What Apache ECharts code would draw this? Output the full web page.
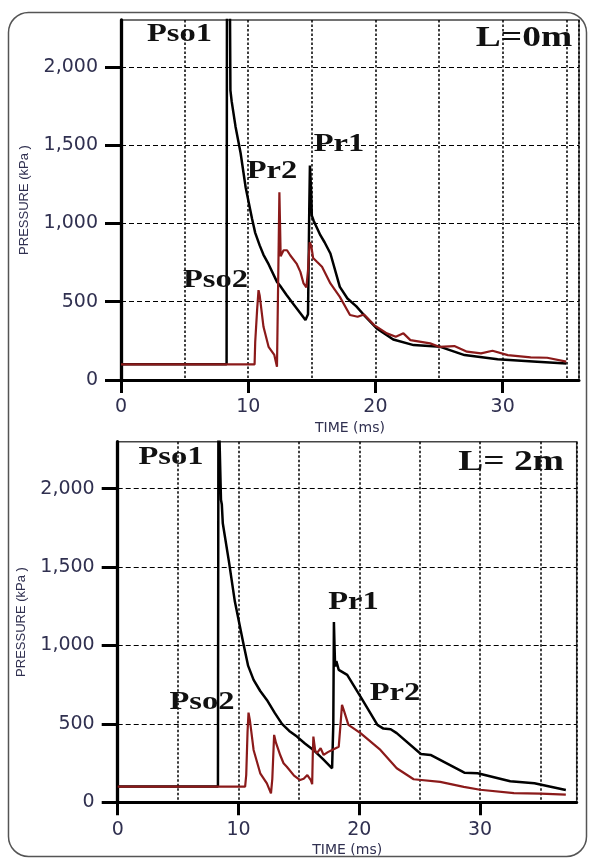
<!DOCTYPE html>
<html>
<head>
<meta charset="utf-8">
<script src="https://cdn.jsdelivr.net/npm/echarts@6/dist/echarts.min.js"></script>
<style>
html,body{margin:0;padding:0;background:#fff;}
#chart{width:589px;height:859px;}
</style>
</head>
<body>
<div id="chart"></div>
<script>
// ---- Data (time in ms, pressure in kPa) ----
// L = 0 m, black trace (Pso1 / Pr1)
const t0Black = [0, 8.3, 8.33, 8.55, 8.6, 8.7, 9.0, 9.4, 9.8, 10.3, 10.55, 10.9, 11.2, 11.6, 12.26, 12.52, 13.0, 13.5, 14.1, 14.5, 14.7, 14.8, 14.85, 14.95, 15.0, 15.15, 15.67, 16.0, 16.46, 17.2, 17.8, 18.5, 19.1, 20.1, 21.4, 23.0, 25.1, 27.0, 29.6, 32.7, 35.0];
const p0Black = [100, 100, 2600, 2600, 1850, 1780, 1620, 1450, 1230, 1030, 940, 860, 800, 740, 627, 600, 545, 490, 427, 383, 420, 1100, 1370, 1200, 1050, 1016, 925, 880, 808, 595, 521, 470, 415, 330, 259, 223, 212, 159, 132, 117, 106];
// L = 0 m, red trace (Pso2 / Pr2)
const t0Red = [0, 10.5, 10.55, 10.7, 10.81, 10.9, 11.2, 11.6, 12.05, 12.26, 12.35, 12.4, 12.45, 12.5, 12.55, 12.78, 13.05, 13.3, 13.8, 14.1, 14.35, 14.57, 14.7, 14.83, 14.95, 15.1, 15.4, 15.8, 16.46, 17.2, 18.0, 18.6, 19.1, 19.9, 20.9, 21.6, 22.2, 22.75, 24.3, 25.0, 26.2, 27.2, 28.3, 29.2, 30.4, 32.2, 33.5, 35.0];
const p0Red = [100, 100, 244, 450, 574, 540, 340, 212, 160, 85, 90, 900, 1200, 1000, 790, 829, 829, 797, 744, 691, 617, 591, 700, 880, 860, 780, 755, 723, 617, 531, 415, 404, 419, 351, 298, 276, 298, 255, 234, 212, 217, 181, 170, 187, 159, 145, 142, 117];
// L = 2 m, black trace
const t2Black = [0, 8.3, 8.34, 8.5, 8.55, 8.62, 8.7, 9.2, 9.7, 10.4, 10.8, 11.25, 11.8, 12.35, 13.0, 13.6, 14.2, 14.84, 15.5, 16.2, 17.0, 17.75, 17.85, 17.9, 17.95, 18.0, 18.1, 18.3, 19.0, 20.1, 21.5, 22.0, 22.6, 23.1, 25.1, 25.9, 28.7, 29.8, 32.5, 34.5, 37.1];
const p2Black = [100, 100, 2600, 2600, 1930, 1900, 1780, 1540, 1280, 1015, 870, 781, 710, 653, 570, 500, 455, 419, 375, 334, 275, 217, 500, 1150, 1000, 866, 900, 845, 813, 674, 494, 470, 466, 441, 308, 302, 189, 185, 134, 121, 79];
// L = 2 m, red trace
const t2Red = [0, 10.55, 10.64, 10.75, 10.83, 10.95, 11.25, 11.8, 12.35, 12.69, 12.8, 12.95, 13.1, 13.46, 13.73, 14.0, 14.6, 15.1, 15.4, 15.7, 16.0, 16.1, 16.15, 16.2, 16.35, 16.5, 16.8, 17.05, 17.4, 17.75, 18.3, 18.45, 18.57, 18.75, 18.85, 19.1, 20.1, 21.75, 23.1, 24.5, 26.7, 28.65, 30.0, 32.8, 35.0, 37.1];
const p2Red = [100, 100, 174, 450, 572, 520, 334, 185, 121, 57, 150, 430, 380, 300, 249, 227, 170, 142, 150, 174, 140, 115, 300, 419, 330, 313, 345, 302, 320, 334, 355, 500, 621, 580, 590, 494, 441, 334, 217, 147, 130, 98, 80, 59, 55, 49];

// Axis ticks / labels
const xTickValues = [0, 10, 20, 30];
const yTickValues = [0, 500, 1000, 1500, 2000];
const xMax = [36, 38];
const yMax = 2300;

// Annotation texts
const topLabels = ['Pso1', 'L=0m', 'Pr2', 'Pr1', 'Pso2'];
const bottomLabels = ['Pso1', 'L= 2m', 'Pr1', 'Pso2', 'Pr2'];

const zip = (t, p) => t.map((v, i) => [v, p[i]]);

const labelColor = '#303050';
const axisFont = 'DejaVu Sans';

function gridCfg(left, top, width, height) {
  return { left, top, width, height, show: true, borderColor: '#444', borderWidth: 1.5, containLabel: false };
}

function xAxes(gi, max) {
  return [
    { // grid lines every 5 ms
      type: 'value', gridIndex: gi, min: 0, max: max, interval: 5, position: 'top',
      axisLine: { show: false }, axisTick: { show: false }, axisLabel: { show: false },
      splitLine: { show: true, lineStyle: { color: '#000', width: 1.5, type: [2.5, 2] } }
    },
    { // labelled axis
      type: 'value', gridIndex: gi, min: 0, max: max, interval: 10, position: 'bottom',
      name: 'TIME (ms)', nameLocation: 'middle', nameGap: 41,
      nameTextStyle: { fontFamily: axisFont, fontSize: 14, color: labelColor },
      axisLine: { show: true, onZero: false, lineStyle: { color: '#000', width: 3 } },
      axisTick: { show: true, length: 13, customValues: xTickValues, lineStyle: { color: '#000', width: 3 } },
      axisLabel: { show: true, customValues: xTickValues, margin: 18, fontFamily: axisFont, fontSize: 19, color: labelColor },
      splitLine: { show: false }
    }
  ];
}

function yAxisCfg(gi) {
  return {
    type: 'value', gridIndex: gi, min: 0, max: yMax, interval: 500,
    name: 'PRESSURE (kPa )', nameLocation: 'middle', nameGap: 90,
    nameTextStyle: { fontFamily: 'Liberation Sans', fontSize: 13, color: labelColor },
    axisLine: { show: true, onZero: false, lineStyle: { color: '#000', width: 3.3 } },
    axisTick: { show: true, length: 16, customValues: yTickValues, lineStyle: { color: '#000', width: 3 } },
    axisLabel: { show: true, customValues: yTickValues, margin: 23, fontFamily: axisFont, fontSize: 19, color: labelColor,
      formatter: v => v.toLocaleString('en-US') },
    splitLine: { show: true, lineStyle: { color: '#000', width: 1.2, type: [5, 3] } }
  };
}

function lineSeries(data, xi, yi, color, width) {
  return {
    type: 'line', data: data, xAxisIndex: xi, yAxisIndex: yi,
    showSymbol: false, symbol: 'none', clip: true, animation: false,
    lineStyle: { color: color, width: width }, z: 3
  };
}

function note(text, x, y, size) {
  return {
    type: 'text', x: x, y: y, scaleX: 1.25, z: 100,
    style: { text: text, fill: '#111', font: 'bold ' + size + 'px "Liberation Serif", "Times New Roman", serif',
      align: 'center', verticalAlign: 'middle' }
  };
}

const chart = echarts.init(document.getElementById('chart'), null, { renderer: 'canvas' });
const black = '#000';
const red = '#8b1a1a';

chart.setOption({
  animation: false,
  backgroundColor: '#fff',
  grid: [gridCfg(121, 20, 458, 360), gridCfg(117.7, 441.7, 459, 360.6)],
  xAxis: [...xAxes(0, xMax[0]), ...xAxes(1, xMax[1])],
  yAxis: [yAxisCfg(0), yAxisCfg(1)],
  series: [
    lineSeries(zip(t0Black, p0Black), 1, 0, black, 2.5),
    lineSeries(zip(t0Red, p0Red), 1, 0, red, 2.2),
    lineSeries(zip(t2Black, p2Black), 3, 1, black, 2.5),
    lineSeries(zip(t2Red, p2Red), 3, 1, red, 2.2)
  ],
  graphic: [
    { type: 'rect', z: 0, shape: { x: 8.5, y: 12.5, width: 578, height: 844, r: 20 },
      style: { fill: 'none', stroke: '#555', lineWidth: 1.5 } },
    note(topLabels[0], 179.5, 34, 26),
    note(topLabels[1], 524, 38, 30),
    note(topLabels[2], 272, 171, 26),
    note(topLabels[3], 339, 144, 26),
    note(topLabels[4], 215.5, 280, 26),
    note(bottomLabels[0], 171, 457, 26),
    note(bottomLabels[1], 511, 462, 30),
    note(bottomLabels[2], 353.5, 602, 26),
    note(bottomLabels[3], 202, 702.5, 26),
    note(bottomLabels[4], 395, 693, 26)
  ]
});
</script>
</body>
</html>
